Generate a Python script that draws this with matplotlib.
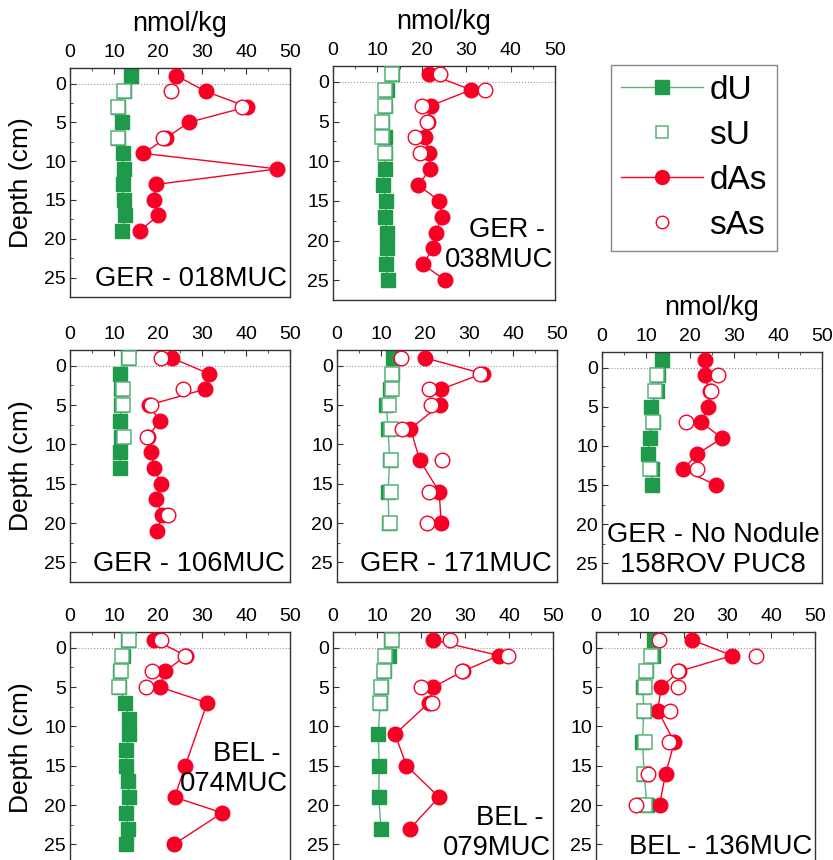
import matplotlib.pyplot as plt
from matplotlib.lines import Line2D
from matplotlib.ticker import MultipleLocator

plt.rcParams['font.family'] = ['Liberation Sans', 'DejaVu Sans']

GREEN = '#1f9a4b'
GREEN_LIGHT = '#5cb37c'
RED = '#f80025'

# --- GER - 018MUC ---
dep_018 = [-1, 1, 3, 5, 7, 9, 11, 13, 15, 17, 19]
dU_018 = [13.9, 12.2, 11.0, 11.8, 11.0, 12.0, 12.2, 12.0, 12.2, 12.5, 11.9]
dAs_018 = [24.2, 30.8, 40.3, 27.0, 21.9, 16.7, 47.1, 19.6, 19.0, 20.1, 15.8]
sdep_018 = [1, 3, 7]
sU_018 = [12.2, 11.0, 10.9]
sAs_018 = [22.9, 39.2, 21.1]

# --- GER - 038MUC ---
dep_038 = [-1, 1, 3, 5, 7, 9, 11, 13, 15, 17, 19, 21, 23, 25]
dU_038 = [13.2, 12.2, 11.6, 11.1, 11.7, 11.8, 11.7, 11.2, 12.0, 11.8, 12.1, 12.1, 12.0, 12.3]
dAs_038 = [21.7, 31.1, 22.1, 21.4, 20.7, 21.7, 21.9, 19.2, 23.9, 24.6, 23.1, 22.6, 20.2, 25.3]
sdep_038 = [-1, 1, 3, 5, 7, 9]
sU_038 = [13.3, 11.8, 11.6, 11.1, 11.1, 11.6]
sAs_038 = [24.1, 34.2, 20.0, 21.1, 18.5, 19.6]

# --- GER - 106MUC ---
dUdep_106 = [-1, 1, 3, 5, 7, 9, 11, 13]
dU_106 = [13.2, 11.4, 11.6, 11.6, 11.4, 11.6, 11.4, 11.4]
dAsdep_106 = [-1, 1, 3, 5, 7, 9, 11, 13, 15, 17, 19, 21]
dAs_106 = [23.1, 31.5, 30.6, 17.9, 20.4, 17.8, 18.5, 19.1, 20.7, 19.6, 21.0, 19.8]
sUdep_106 = [-1, 3, 5, 9]
sU_106 = [13.4, 12.0, 12.0, 12.3]
sAsdep_106 = [-1, 3, 5, 9, 19]
sAs_106 = [20.7, 25.7, 18.3, 17.5, 22.2]

# --- GER - 171MUC ---
dep_171 = [-1, 1, 3, 5, 8, 12, 16, 20]
dU_171 = [12.8, 12.6, 12.0, 11.2, 11.6, 12.0, 11.6, 11.8]
dAs_171 = [20.0, 33.1, 23.6, 23.4, 16.7, 18.8, 23.2, 23.7]
sdep_171 = [1, 3, 5, 8, 12, 16, 20]
sU_171 = [12.6, 12.4, 11.9, 12.2, 12.2, 12.3, 12.0]
sAsdep_171 = [-1, 1, 3, 5, 8, 12, 16, 20]
sAs_171 = [14.5, 32.6, 20.9, 21.3, 14.7, 23.8, 20.9, 20.5]

# --- GER - No Nodule 158ROV PUC8 ---
dep_158 = [-1, 1, 3, 5, 7, 9, 11, 13, 15]
dU_158 = [13.6, 12.8, 12.5, 11.2, 11.6, 10.8, 10.4, 11.4, 11.4]
dAs_158 = [23.3, 23.3, 24.5, 24.1, 22.6, 27.3, 21.7, 18.4, 25.9]
sdep_158 = [1, 3, 7, 13]
sU_158 = [12.5, 12.1, 11.6, 11.0]
sAs_158 = [26.3, 24.8, 19.2, 21.7]

# --- BEL - 074MUC ---
dUdep_074 = [-1, 1, 3, 5, 7, 9, 11, 13, 15, 17, 19, 21, 23, 25]
dU_074 = [13.2, 12.0, 11.4, 11.2, 12.5, 13.5, 13.5, 12.8, 12.8, 13.2, 13.4, 12.8, 13.1, 12.8]
dAsdep_074 = [-1, 1, 3, 5, 7, 15, 19, 21, 25]
dAs_074 = [19.2, 26.3, 21.7, 20.4, 31.2, 26.2, 23.8, 34.6, 23.6]
sdep_074 = [-1, 1, 3, 5]
sU_074 = [13.5, 11.8, 11.6, 11.2]
sAs_074 = [20.6, 26.1, 18.6, 17.3]

# --- BEL - 079MUC ---
dep_079 = [-1, 1, 3, 5, 7, 11, 15, 19, 23]
dU_079 = [13.2, 12.7, 11.6, 10.8, 10.7, 10.3, 10.5, 10.4, 10.9]
dAs_079 = [22.8, 37.7, 29.5, 22.8, 21.8, 14.1, 16.7, 24.1, 17.5]
sdep_079 = [-1, 1, 3, 5, 7]
sU_079 = [13.5, 11.8, 11.6, 10.8, 10.7]
sAs_079 = [26.6, 39.7, 29.3, 19.9, 22.5]

# --- BEL - 136MUC ---
dep_136 = [-1, 1, 3, 5, 8, 12, 16, 20]
dU_136 = [13.2, 13.0, 11.5, 10.7, 10.9, 10.6, 11.0, 11.6]
dAs_136 = [21.9, 31.1, 19.0, 14.9, 14.1, 17.9, 15.9, 14.5]
sdep_136 = [1, 3, 5, 8, 12, 16, 20]
sU_136 = [12.5, 11.5, 11.1, 10.9, 11.3, 10.9, 11.3]
sAsdep_136 = [-1, 1, 3, 5, 8, 12, 16, 20]
sAs_136 = [14.4, 36.6, 18.8, 18.8, 16.8, 16.6, 11.9, 9.2]

W, H = 833, 860

panels = [
    # pixel box (left, top, right, bottom), data, label, label pos, flags
    dict(box=(70, 68, 290, 297), dU=(dep_018, dU_018), dAs=(dep_018, dAs_018),
         sU=(sdep_018, sU_018), sAs=(sdep_018, sAs_018),
         name='GER - 018MUC', txt=(0.987, 0.02), ha='right', xl=True, yl=True),
    dict(box=(333, 66, 555, 300), dU=(dep_038, dU_038), dAs=(dep_038, dAs_038),
         sU=(sdep_038, sU_038), sAs=(sdep_038, sAs_038),
         name='GER - \n038MUC', txt=(0.99, 0.115), ha='right', xl=True, yl=False),
    dict(box=(70, 350, 290, 582), dU=(dUdep_106, dU_106), dAs=(dAsdep_106, dAs_106),
         sU=(sUdep_106, sU_106), sAs=(sAsdep_106, sAs_106),
         name='GER - 106MUC', txt=(0.977, 0.02), ha='right', xl=False, yl=True),
    dict(box=(337, 350, 557, 582), dU=(dep_171, dU_171), dAs=(dep_171, dAs_171),
         sU=(sdep_171, sU_171), sAs=(sAsdep_171, sAs_171),
         name='GER - 171MUC', txt=(0.977, 0.02), ha='right', xl=False, yl=False),
    dict(box=(602, 352, 822, 583), dU=(dep_158, dU_158), dAs=(dep_158, dAs_158),
         sU=(sdep_158, sU_158), sAs=(sdep_158, sAs_158),
         name='GER - No Nodule\n158ROV PUC8', txt=(0.505, 0.02), ha='center',
         xl=True, yl=False),
    dict(box=(70, 632, 290, 864), dU=(dUdep_074, dU_074), dAs=(dAsdep_074, dAs_074),
         sU=(sdep_074, sU_074), sAs=(sdep_074, sAs_074),
         name='BEL - \n074MUC', txt=(0.99, 0.29), ha='right', xl=False, yl=True),
    dict(box=(333, 632, 553, 864), dU=(dep_079, dU_079), dAs=(dep_079, dAs_079),
         sU=(sdep_079, sU_079), sAs=(sdep_079, sAs_079),
         name='BEL - \n079MUC', txt=(0.99, 0.015), ha='right', xl=False, yl=False),
    dict(box=(596, 632, 815, 864), dU=(dep_136, dU_136), dAs=(dep_136, dAs_136),
         sU=(sdep_136, sU_136), sAs=(sAsdep_136, sAs_136),
         name='BEL - 136MUC', txt=(0.987, 0.018), ha='right', xl=False, yl=False),
]

fig = plt.figure(figsize=(W / 100, H / 100), dpi=100)

for p in panels:
    l, t, r, b = p['box']
    ax = fig.add_axes([l / W, 1 - b / H, (r - l) / W, (b - t) / H])
    ax.set_xlim(0, 50)
    ax.set_ylim(27.5, -2.0)

    ax.axhline(0, color='#9a9a9a', lw=0.8, ls=':', zorder=1)

    ax.plot(p['dU'][1], p['dU'][0], color=GREEN_LIGHT, lw=1.0, marker='s', ms=9.5,
            mfc=GREEN, mec=GREEN, zorder=2)
    ax.plot(p['dAs'][1], p['dAs'][0], color=RED, lw=1.0, marker='o', ms=10.5,
            mfc=RED, mec=RED, zorder=3)
    ax.plot(p['sU'][1], p['sU'][0], ls='none', marker='s', ms=9.5, mfc='white',
            mec=GREEN_LIGHT, mew=1.1, zorder=4)
    ax.plot(p['sAs'][1], p['sAs'][0], ls='none', marker='o', ms=10.5, mfc='white',
            mec=RED, mew=1.0, zorder=5)

    ax.xaxis.tick_top()
    ax.xaxis.set_major_locator(MultipleLocator(10))
    ax.xaxis.set_minor_locator(MultipleLocator(5))
    ax.yaxis.set_major_locator(MultipleLocator(5))
    ax.yaxis.set_minor_locator(MultipleLocator(2.5))
    ax.tick_params(which='both', direction='in', top=True, bottom=False,
                   left=True, right=False, labelsize=14, color='#333333')
    ax.tick_params(axis='x', which='major', length=4, pad=5)
    ax.tick_params(axis='y', which='major', length=4, pad=3)
    ax.tick_params(which='minor', length=2.5)
    for s in ax.spines.values():
        s.set_color('#333333')
        s.set_linewidth(1.0)

    if p['xl']:
        ax.xaxis.set_label_position('top')
        ax.set_xlabel('nmol/kg', fontsize=19.5)
        ax.xaxis.set_label_coords(0.5, 1 + 37 / (b - t))
    if p['yl']:
        ax.set_ylabel('Depth (cm)', fontsize=19)
        ax.yaxis.set_label_coords(-0.17, 0.5)

    ax.text(p['txt'][0], p['txt'][1], p['name'], transform=ax.transAxes,
            ha=p['ha'], va='bottom', multialignment=p['ha'], fontsize=19.7)

handles = [
    Line2D([], [], color=GREEN_LIGHT, lw=1.0, marker='s', ms=9.5, mfc=GREEN, mec=GREEN),
    Line2D([], [], ls='none', marker='s', ms=9, mfc='white', mec=GREEN_LIGHT, mew=1.1),
    Line2D([], [], color=RED, lw=1.0, marker='o', ms=10, mfc=RED, mec=RED),
    Line2D([], [], ls='none', marker='o', ms=9, mfc='white', mec=RED, mew=1.0),
]
leg = fig.legend(handles, ['dU', 'sU', 'dAs', 'sAs'], loc='upper left',
                 bbox_to_anchor=(611 / W, 1 - 65 / H), borderaxespad=0,
                 fontsize=24, handlelength=2.45, handletextpad=0.2,
                 labelspacing=0.42, borderpad=0.3, fancybox=False, framealpha=1)
leg.get_frame().set_edgecolor('#888888')
leg.get_frame().set_linewidth(1.0)

fig.savefig('out.png', dpi=100)
